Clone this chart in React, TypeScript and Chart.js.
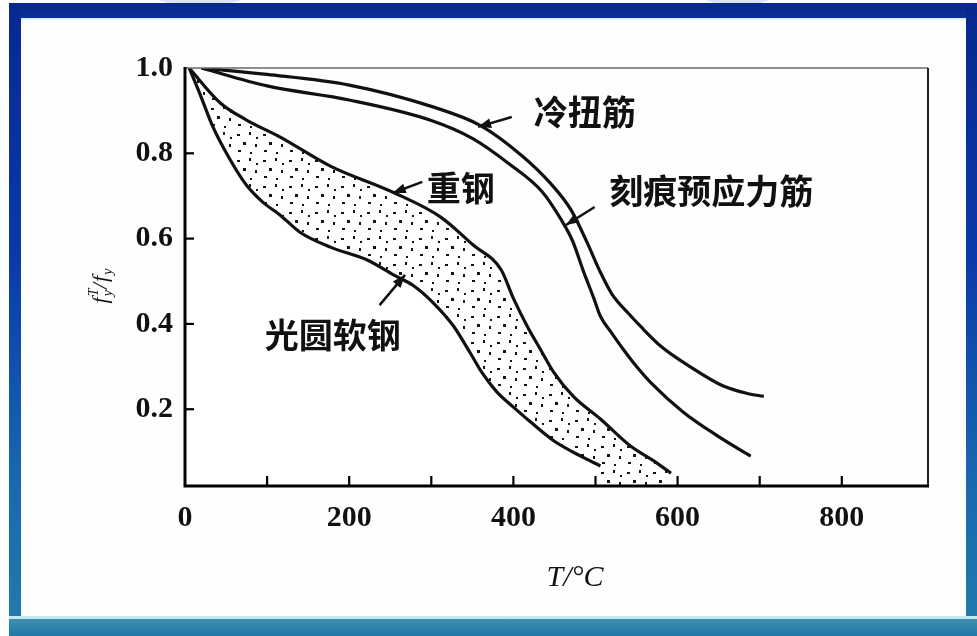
import React, { useEffect, useRef } from "react";
import { Chart, registerables } from "chart.js";
Chart.register(...registerables);

// ---- data (T in °C, strength ratio) ----
const coldT = [20, 100, 200, 300, 360, 410, 445, 470, 490, 505, 520, 540, 555, 580, 615, 655, 685, 705];
const coldR = [1.0, 0.985, 0.96, 0.91, 0.865, 0.795, 0.73, 0.668, 0.59, 0.525, 0.47, 0.425, 0.394, 0.347, 0.3, 0.255, 0.237, 0.23];

const notchT = [20, 100, 200, 300, 350, 395, 435, 458, 472, 485, 498, 506, 520, 534, 550, 567, 607, 649, 689];
const notchR = [1.0, 0.958, 0.925, 0.877, 0.835, 0.775, 0.71, 0.645, 0.595, 0.525, 0.46, 0.418, 0.378, 0.34, 0.3, 0.263, 0.193, 0.137, 0.09];

const heavyT = [5, 43, 75, 116, 177, 254, 311, 351, 385, 400, 417, 433, 449, 473, 506, 543, 570, 592];
const heavyR = [1.0, 0.918, 0.878, 0.838, 0.77, 0.708, 0.651, 0.585, 0.527, 0.46, 0.394, 0.34, 0.287, 0.23, 0.177, 0.113, 0.08, 0.05];

const mildT = [5, 18, 34, 55, 75, 95, 116, 140, 177, 222, 254, 278, 302, 327, 348, 362, 380, 400, 421, 450, 482, 506];
const mildR = [1.0, 0.94, 0.862, 0.785, 0.725, 0.685, 0.655, 0.615, 0.58, 0.55, 0.515, 0.49, 0.45, 0.395, 0.33, 0.285, 0.24, 0.205, 0.17, 0.125, 0.09, 0.067];

const xTickLabels = [0, 200, 400, 600, 800];
const yTickLabels = [0.2, 0.4, 0.6, 0.8, 1.0];
const xTickMarks = [100, 200, 300, 400, 500, 600, 700, 800];
const yTickMarks = [0.2, 0.4, 0.6, 0.8];

const seriesNames = ["冷扭筋", "刻痕预应力筋", "重钢", "光圆软钢"];

// annotation anchors (data units)
const annotationConfig = [
  { text: seriesNames[0], T: 487, r: 0.897, fromT: 398, fromR: 0.885, toT: 357, toR: 0.862 },
  { text: seriesNames[1], T: 641, r: 0.712, fromT: 499, fromR: 0.674, toT: 464, toR: 0.632 },
  { text: seriesNames[2], T: 336, r: 0.719, fromT: 289, fromR: 0.733, toT: 253, toR: 0.707 },
  { text: seriesNames[3], T: 180, r: 0.374, fromT: 237, fromR: 0.444, toT: 268, toR: 0.515 },
];

const toPts = (xs: number[], ys: number[]) => xs.map((x, i) => ({ x, y: ys[i] }));

function makeDots(ctx: CanvasRenderingContext2D) {
  const c = document.createElement("canvas");
  c.width = 26;
  c.height = 26;
  const g = c.getContext("2d")!;
  g.fillStyle = "#151515";
  const dots = [
    [3, 4, 3, 2], [15, 2, 2, 3], [9, 12, 3, 3], [21, 14, 2, 3], [4, 20, 3, 2], [16, 22, 2, 2], [22, 7, 2, 2],
  ];
  dots.forEach(([x, y, w, h]) => g.fillRect(x, y, w, h));
  return ctx.createPattern(c, "repeat")!;
}

const framePlugin = {
  id: "framePlugin",
  afterDatasetsDraw(chart: any) {
    const ctx = chart.ctx as CanvasRenderingContext2D;
    const { left, right, top, bottom } = chart.chartArea;
    const xs = chart.scales.x;
    const ys = chart.scales.y;
    ctx.save();
    ctx.lineCap = "butt";
    // top border
    ctx.strokeStyle = "#6a6a6a";
    ctx.lineWidth = 1.5;
    ctx.beginPath();
    ctx.moveTo(left, top);
    ctx.lineTo(right, top);
    ctx.stroke();
    // right border
    ctx.strokeStyle = "#222";
    ctx.lineWidth = 2;
    ctx.beginPath();
    ctx.moveTo(right, top);
    ctx.lineTo(right, bottom);
    ctx.stroke();
    // left and bottom axes
    ctx.strokeStyle = "#000";
    ctx.lineWidth = 3;
    ctx.beginPath();
    ctx.moveTo(left, top - 1);
    ctx.lineTo(left, bottom);
    ctx.lineTo(right + 1, bottom);
    ctx.stroke();
    // inward tick marks
    ctx.lineWidth = 2.2;
    xTickMarks.forEach((v) => {
      const px = xs.getPixelForValue(v);
      ctx.beginPath();
      ctx.moveTo(px, bottom);
      ctx.lineTo(px, bottom - 10);
      ctx.stroke();
    });
    yTickMarks.forEach((v) => {
      const py = ys.getPixelForValue(v);
      ctx.beginPath();
      ctx.moveTo(left, py);
      ctx.lineTo(left + 9, py);
      ctx.stroke();
    });

    // annotations
    ctx.fillStyle = "#111";
    ctx.strokeStyle = "#111";
    ctx.font = 'bold 34px "Noto Sans CJK SC"';
    ctx.textAlign = "center";
    ctx.textBaseline = "middle";
    annotationConfig.forEach((a) => {
      ctx.fillText(a.text, xs.getPixelForValue(a.T), ys.getPixelForValue(a.r));
      const x1 = xs.getPixelForValue(a.fromT);
      const y1 = ys.getPixelForValue(a.fromR);
      const x2 = xs.getPixelForValue(a.toT);
      const y2 = ys.getPixelForValue(a.toR);
      ctx.lineWidth = 2.5;
      ctx.beginPath();
      ctx.moveTo(x1, y1);
      ctx.lineTo(x2, y2);
      ctx.stroke();
      const ang = Math.atan2(y2 - y1, x2 - x1);
      const L = 13;
      const W = 5;
      ctx.beginPath();
      ctx.moveTo(x2, y2);
      ctx.lineTo(x2 - L * Math.cos(ang) + W * Math.sin(ang), y2 - L * Math.sin(ang) - W * Math.cos(ang));
      ctx.lineTo(x2 - L * Math.cos(ang) - W * Math.sin(ang), y2 - L * Math.sin(ang) + W * Math.cos(ang));
      ctx.closePath();
      ctx.fill();
    });

    // x title
    ctx.font = 'italic 30px "Liberation Serif"';
    ctx.textAlign = "center";
    ctx.textBaseline = "middle";
    ctx.fillText("T/°C", xs.getPixelForValue(475), bottom + 92);

    // y title (rotated) f_y^T / f_y
    ctx.translate(left - 85, ys.getPixelForValue(0.49));
    ctx.rotate(-Math.PI / 2);
    const big = 'italic 22px "Liberation Serif"';
    const small = 'italic 14px "Liberation Serif"';
    ctx.textAlign = "left";
    ctx.textBaseline = "alphabetic";
    const parts: Array<[string, string, number, boolean]> = [
      ["f", big, 0, true],
      ["T", small, -9, false],
      ["y", small, 5, true],
      ["/", big, 0, true],
      ["f", big, 0, true],
      ["y", small, 5, true],
    ];
    let total = 0;
    parts.forEach(([t, f, , adv]) => {
      ctx.font = f;
      if (adv) total += ctx.measureText(t).width + 1;
    });
    let cx = -total / 2;
    parts.forEach(([t, f, dy, adv]) => {
      ctx.font = f;
      ctx.fillText(t, cx, 7 + dy);
      if (adv) cx += ctx.measureText(t).width + 1;
    });
    ctx.restore();
  },
};

export default function App() {
  const ref = useRef<HTMLCanvasElement>(null);
  useEffect(() => {
    document.body.style.margin = "0";
    const canvas = ref.current!;
    const ctx = canvas.getContext("2d")!;
    const dots = makeDots(ctx);
    const lineBase = {
      borderColor: "#111",
      borderWidth: 3.2,
      pointRadius: 0,
      showLine: true,
      cubicInterpolationMode: "monotone" as const,
    };
    const chart = new Chart(ctx, {
      type: "scatter",
      data: {
        datasets: [
          { ...lineBase, label: seriesNames[0], data: toPts(coldT, coldR), fill: false, order: 0 },
          { ...lineBase, label: seriesNames[1], data: toPts(notchT, notchR), fill: false, order: 1 },
          { ...lineBase, label: seriesNames[2], data: toPts(heavyT, heavyR), fill: "origin", backgroundColor: dots, order: 4 },
          { ...lineBase, label: seriesNames[3], data: toPts(mildT, mildR), fill: "origin", backgroundColor: "#ffffff", order: 3 },
        ],
      },
      options: {
        responsive: false,
        animation: false,
        devicePixelRatio: 1,
        layout: { padding: { left: 0, top: 68, right: 49, bottom: 0 } },
        plugins: {
          legend: { display: false },
          tooltip: { enabled: false },
          filler: { drawTime: "beforeDatasetsDraw" },
        },
        scales: {
          x: {
            type: "linear",
            min: 0,
            max: 905,
            grid: { display: false, drawTicks: false },
            border: { display: false },
            afterFit: (s: any) => { s.height = 150; },
            afterBuildTicks: (s: any) => { s.ticks = xTickLabels.map((v) => ({ value: v })); },
            ticks: {
              padding: 14,
              color: "#111",
              font: { family: '"Liberation Serif", serif', size: 30, weight: "bold" },
              callback: (v: any) => String(v),
            },
          },
          y: {
            type: "linear",
            min: 0.02,
            max: 1.0,
            grid: { display: false, drawTicks: false },
            border: { display: false },
            afterFit: (s: any) => { s.width = 185; },
            afterBuildTicks: (s: any) => { s.ticks = yTickLabels.map((v) => ({ value: v })); },
            ticks: {
              padding: 12,
              color: "#111",
              font: { family: '"Liberation Serif", serif', size: 30, weight: "bold" },
              callback: (v: any) => Number(v).toFixed(1),
            },
          },
        },
      },
      plugins: [framePlugin],
    });
    return () => chart.destroy();
  }, []);

  const band = (s: React.CSSProperties): React.CSSProperties => ({ position: "absolute", ...s });
  return (
    <div style={{ position: "relative", width: 977, height: 636, background: "#fdfefe", overflow: "hidden" }}>
      <div style={band({ left: 150, top: -22, width: 100, height: 28, borderRadius: "50%", background: "#dfe2f3" })} />
      <div style={band({ left: 700, top: -22, width: 75, height: 28, borderRadius: "50%", background: "#dfe2f3" })} />
      <div style={band({ left: 9, top: 3, width: 968, height: 15, background: "linear-gradient(#08278a, #0b2f9a)" })} />
      <div style={band({ left: 9, top: 3, width: 12, height: 633, background: "linear-gradient(#08288f, #0a3aa8 40%, #1868b0 75%, #227cab)" })} />
      <div style={band({ left: 966, top: 3, width: 11, height: 633, background: "linear-gradient(#08288f, #0a3aa8 40%, #1868b0 75%, #227cab)" })} />
      <div style={band({ left: 9, top: 616, width: 968, height: 3, background: "#bfe8f0" })} />
      <div style={band({ left: 9, top: 619, width: 968, height: 17, background: "linear-gradient(#3f8fb0, #1f77a6)" })} />
      <div style={band({ left: 21, top: 18, width: 945, height: 2, background: "#d8f0f6" })} />
      <canvas ref={ref} width={977} height={636} style={{ position: "absolute", left: 0, top: 0 }} />
    </div>
  );
}
